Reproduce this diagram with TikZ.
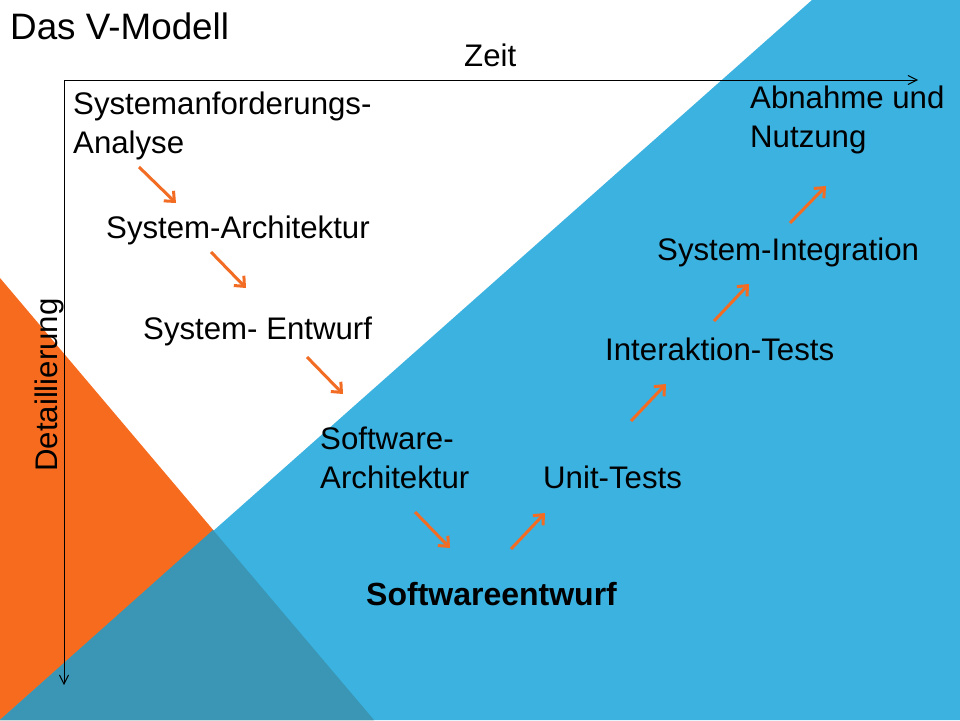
\documentclass[tikz,border=0pt]{standalone}
\usepackage{fontspec}
\setmainfont{Liberation Sans}
\usetikzlibrary{arrows.meta,positioning}
\definecolor{vorange}{RGB}{247,107,30}
\definecolor{vblue}{RGB}{59,178,224}
\definecolor{vdark}{RGB}{58,150,180}
\definecolor{varrow}{RGB}{242,108,36}
\def\big{\fontsize{31.2}{38.5}\selectfont}
\tikzstyle{phase}=[inner sep=0pt, anchor=base west, align=left, font=\big]
\tikzstyle{flow}=[draw=varrow, line width=3pt, -{Straight Barb[length=8pt,width=14pt]}]
\tikzstyle{axis}=[draw=black, line width=1pt, -{Straight Barb[length=9pt,width=9pt]}]

\begin{document}
\begin{tikzpicture}[x=1pt,y=-1pt]
  \useasboundingbox (0,0) rectangle (960,720);
  \fill[white] (0,0) rectangle (960,720);

  % background triangles
  \fill[vorange] (0,278) -- (0,720) -- (374,720) -- cycle;
  \fill[vblue] (812,0) -- (960,0) -- (960,720) -- (0,720) -- cycle;
  \fill[vdark] (213,530) -- (374,720) -- (0,720) -- cycle;

  \coordinate (origin) at (64,80);
  \coordinate (tend) at (918,80);
  \coordinate (dend) at (64,685);
  \draw[axis] (origin) -- (tend);
  \draw[axis] (origin) -- (dend);

  \node[phase, font=\fontsize{36.8}{43}\selectfont] (title) at (10,39) {Das V-Modell};
  \node[phase] (zeit) at (464,66) {Zeit};
  \node[phase, rotate=90] (detail) at (57,472) {Detaillierung};

  % two-line nodes sit on their last baseline
  \node[phase] (sysanf) at (73,153) {Systemanforderungs-\\Analyse};
  \node[phase] (sysarch) at (106,238) {System-Architektur};
  \node[phase] (sysent) at (143,339) {System- Entwurf};
  \node[phase] (swarch) at (320,488) {Software-\\Architektur};
  \node[phase, font=\bfseries\fontsize{32}{38.5}\selectfont] (swent) at (366,605) {Softwareentwurf};
  \node[phase] (unit) at (543,488) {Unit-Tests};
  \node[phase] (inter) at (605,360) {Interaktion-Tests};
  \node[phase] (sysint) at (657,260) {System-Integration};
  \node[phase] (abn) at (750,147) {Abnahme und\\Nutzung};

  \foreach \i/\ax/\ay/\bx/\by in {1/139/167/176/203,2/211/252/246/288,3/307/357/343/394,
      4/415/512/450/548,5/511/549/545/513,6/631/421/666/384,7/714/321/749/284,8/790/223/826/186}{
    \coordinate (a\i) at (\ax,\ay);
    \coordinate (b\i) at (\bx,\by);
    \draw[flow] (a\i) -- (b\i);
  }
\end{tikzpicture}
\end{document}
